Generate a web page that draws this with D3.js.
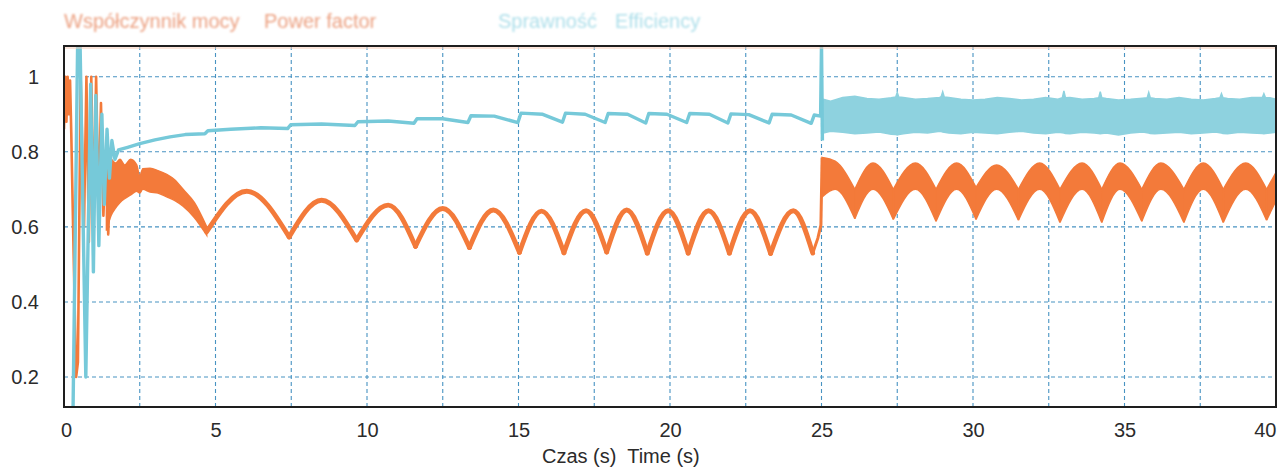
<!DOCTYPE html>
<html>
<head>
<meta charset="utf-8">
<script src="https://cdn.jsdelivr.net/npm/d3@7"></script>
<style>
  html, body { margin: 0; padding: 0; background: #fff; }
  svg { display: block; font-family: "Liberation Sans", Arial, sans-serif; }
  .tick-label { font-size: 20px; fill: #2b2b2b; }
</style>
</head>
<body>
<svg id="chart" width="1284" height="470"></svg>
<script>
// ---- DATA ----
const xTicks = [0, 5, 10, 15, 20, 25, 30, 35, 40];
const xGrid = [2.5, 5, 7.5, 10, 12.5, 15, 17.5, 20, 22.5, 25, 27.5, 30, 32.5, 35, 37.5];
const yTicks = [0.2, 0.4, 0.6, 0.8, 1];
const yTickLabels = ['0.2', '0.4', '0.6', '0.8', '1'];

// power factor, start-up transient
const pfStartT = [0.00, 0.04, 0.08, 0.12, 0.16, 0.20, 0.24, 0.30, 0.40, 0.46, 0.55, 0.66, 0.74, 0.82, 0.90, 0.98, 1.06, 1.14, 1.22, 1.30, 1.38, 1.46, 1.52];
const pfStartV = [0.86, 1.00, 0.88, 1.00, 0.90, 0.99, 0.85, 0.60, 0.20, 0.24, 1.00, 0.60, 1.00, 0.56, 1.00, 0.62, 1.00, 0.64, 0.93, 0.63, 0.80, 0.58, 0.72];

// power factor, rippled band 1.4 - 4.7 s
const pfRipT = [1.40, 1.55, 1.70, 1.85, 2.00, 2.20, 2.40, 2.50, 2.60, 2.84, 3.10, 3.39, 3.66, 3.93, 4.30, 4.71];
const pfRipHi = [0.75, 0.78, 0.77, 0.78, 0.765, 0.78, 0.765, 0.735, 0.755, 0.756, 0.75, 0.74, 0.725, 0.70, 0.665, 0.60];
const pfRipLo = [0.59, 0.63, 0.65, 0.665, 0.675, 0.685, 0.695, 0.69, 0.70, 0.693, 0.69, 0.68, 0.67, 0.655, 0.625, 0.578];

// power factor arches 4.7 - 25 s (minimum, maximum, minimum, ...)
const pfArcT = [4.71, 6.03, 7.43, 8.50, 9.66, 10.70, 11.60, 12.50, 13.38, 14.17, 15.03, 15.76, 16.50, 17.23, 17.91, 18.57, 19.25, 19.94, 20.60, 21.27, 21.96, 22.64, 23.32, 24.07, 24.71];
const pfArcV = [0.587, 0.695, 0.573, 0.671, 0.565, 0.658, 0.548, 0.649, 0.545, 0.645, 0.532, 0.642, 0.531, 0.643, 0.533, 0.645, 0.530, 0.643, 0.530, 0.643, 0.530, 0.643, 0.529, 0.643, 0.530];

// power factor step at 25 s
const pfJumpT = [24.71, 24.88, 24.98, 25.02];
const pfJumpV = [0.530, 0.570, 0.605, 0.785];

// power factor band after 25 s
const pfBandT = [25.02, 25.45, 26.10, 26.70, 27.37, 28.10, 28.78, 29.46, 30.10, 30.78, 31.50, 32.20, 32.87, 33.60, 34.25, 34.85, 35.57, 36.20, 36.96, 37.60, 38.26, 39.00, 39.69, 40.00];
const pfBandHi = [0.785, 0.775, 0.700, 0.770, 0.700, 0.770, 0.700, 0.770, 0.705, 0.765, 0.700, 0.770, 0.700, 0.770, 0.700, 0.770, 0.700, 0.770, 0.700, 0.770, 0.700, 0.770, 0.700, 0.745];
const pfBandLo = [0.680, 0.700, 0.622, 0.700, 0.620, 0.700, 0.615, 0.700, 0.620, 0.700, 0.618, 0.700, 0.612, 0.700, 0.612, 0.700, 0.615, 0.700, 0.612, 0.700, 0.612, 0.700, 0.618, 0.670];

// efficiency 0.3 - 25 s
const effT = [0.30, 0.45, 0.53, 0.72, 0.88, 0.97, 1.05, 1.15, 1.25, 1.33, 1.42, 1.50, 1.58, 1.68, 1.80, 2.10, 2.50, 3.00, 3.50, 4.00, 4.65, 4.75, 5.50, 6.50, 7.38, 7.48, 8.50, 9.60, 9.70, 10.70, 11.55, 11.65, 12.50, 13.33, 13.43, 14.20, 14.98, 15.08, 15.80, 16.45, 16.55, 17.20, 17.86, 17.96, 18.60, 19.20, 19.30, 19.90, 20.55, 20.65, 21.30, 21.91, 22.01, 22.60, 23.27, 23.37, 24.00, 24.66, 24.76, 24.97, 25.00, 25.03];
const effV = [0.12, 1.09, 1.09, 0.20, 0.98, 0.48, 0.95, 0.55, 0.90, 0.66, 0.86, 0.73, 0.83, 0.78, 0.805, 0.812, 0.822, 0.832, 0.840, 0.846, 0.848, 0.856, 0.860, 0.864, 0.862, 0.872, 0.874, 0.870, 0.880, 0.882, 0.876, 0.888, 0.888, 0.878, 0.896, 0.895, 0.878, 0.903, 0.900, 0.879, 0.903, 0.900, 0.878, 0.902, 0.900, 0.877, 0.902, 0.900, 0.878, 0.902, 0.900, 0.877, 0.901, 0.899, 0.877, 0.900, 0.898, 0.876, 0.898, 0.895, 1.09, 0.83];

// efficiency band after 25 s
const effBandT = [25.05, 25.3, 25.7, 26.1, 26.5, 26.9, 27.3, 27.45, 27.5, 27.55, 27.7, 28.1, 28.5, 28.9, 28.95, 29.0, 29.05, 29.2, 29.6, 30.0, 30.4, 30.8, 31.2, 31.6, 32.0, 32.4, 32.8, 32.95, 33.0, 33.05, 33.2, 33.6, 34.0, 34.15, 34.2, 34.25, 34.4, 34.8, 35.2, 35.6, 35.75, 35.8, 35.85, 36.0, 36.4, 36.8, 37.2, 37.6, 38.0, 38.15, 38.2, 38.25, 38.4, 38.8, 39.2, 39.55, 39.6, 39.65, 39.8, 40.0];
const effBandHi = [0.940, 0.935, 0.945, 0.948, 0.942, 0.940, 0.944, 0.946, 0.958, 0.946, 0.945, 0.940, 0.942, 0.945, 0.947, 0.960, 0.946, 0.945, 0.940, 0.938, 0.940, 0.945, 0.942, 0.938, 0.940, 0.945, 0.940, 0.944, 0.962, 0.944, 0.945, 0.940, 0.942, 0.944, 0.960, 0.944, 0.942, 0.938, 0.940, 0.943, 0.944, 0.958, 0.944, 0.942, 0.940, 0.945, 0.940, 0.938, 0.942, 0.944, 0.955, 0.944, 0.942, 0.940, 0.945, 0.945, 0.955, 0.945, 0.944, 0.940];
const effBandLo = [0.850, 0.855, 0.852, 0.848, 0.850, 0.853, 0.847, 0.846, 0.845, 0.846, 0.848, 0.852, 0.850, 0.855, 0.854, 0.853, 0.852, 0.850, 0.848, 0.852, 0.850, 0.848, 0.852, 0.855, 0.850, 0.848, 0.852, 0.851, 0.850, 0.849, 0.848, 0.852, 0.850, 0.849, 0.848, 0.849, 0.850, 0.845, 0.850, 0.853, 0.851, 0.850, 0.849, 0.848, 0.850, 0.852, 0.848, 0.850, 0.853, 0.851, 0.850, 0.849, 0.848, 0.852, 0.850, 0.849, 0.848, 0.849, 0.850, 0.852];

// ---- SETUP ----
const ORANGE = '#f37a3a', CYAN = '#76c9d9', CYAN_BAND = '#8ed2df', GRID = '#4893c2';
const svg = d3.select('#chart');
const margin = { top: 46, right: 8, bottom: 63, left: 64 };
const W = 1284, H = 470;

const x = d3.scaleLinear().domain([0, 40]).range([margin.left, W - margin.right]);
const y = d3.scaleLinear().domain([0.12, 1.082]).range([H - margin.bottom, margin.top]);

svg.append('defs').append('clipPath').attr('id', 'plot-clip')
  .append('rect')
  .attr('x', x(0)).attr('y', y(1.082))
  .attr('width', x(40) - x(0)).attr('height', y(0.12) - y(1.082));

const blur = svg.select('defs').append('filter').attr('id', 'soft');
blur.append('feGaussianBlur').attr('stdDeviation', 0.9);

// GRID
const grid = svg.append('g');
grid.selectAll('.vg').data(xGrid).enter().append('line')
  .attr('x1', d => x(d)).attr('x2', d => x(d))
  .attr('y1', y(1.082)).attr('y2', y(0.12))
  .attr('stroke', GRID).attr('stroke-width', 1.1).attr('stroke-dasharray', '4,3');
grid.selectAll('.hg').data(yTicks).enter().append('line')
  .attr('x1', x(0)).attr('x2', x(40))
  .attr('y1', d => y(d)).attr('y2', d => y(d))
  .attr('stroke', GRID).attr('stroke-width', 1.1).attr('stroke-dasharray', '4,3');

const plot = svg.append('g').attr('clip-path', 'url(#plot-clip)');

const zip = (ts, vs) => ts.map((t, i) => [t, vs[i]]);
const zip3 = (ts, hi, lo) => ts.map((t, i) => [t, hi[i], lo[i]]);

const line = d3.line().x(d => x(d[0])).y(d => y(d[1]));
const arcLine = d3.line().x(d => x(d[0])).y(d => y(d[1])).curve(d3.curveMonotoneX);
const band = d3.area().x(d => x(d[0])).y0(d => y(d[2])).y1(d => y(d[1])).curve(d3.curveMonotoneX);
const bandLin = d3.area().x(d => x(d[0])).y0(d => y(d[2])).y1(d => y(d[1]));

// split min-max-min data into separate arches so cusps stay sharp
function arches(pts) {
  const out = [];
  for (let i = 0; i + 1 < pts.length; i += 2) out.push(pts.slice(i, i + 3));
  return out;
}

// EFFICIENCY band
plot.append('path').datum(zip3(effBandT, effBandHi, effBandLo))
  .attr('d', bandLin).attr('fill', CYAN_BAND).attr('stroke', CYAN_BAND).attr('stroke-width', 1.5);

// POWER FACTOR
plot.append('path').datum(zip(pfStartT, pfStartV))
  .attr('d', line).attr('fill', 'none').attr('stroke', ORANGE).attr('stroke-width', 2.6)
  .attr('stroke-linejoin', 'round');
plot.append('path').datum(zip3(pfRipT, pfRipHi, pfRipLo))
  .attr('d', band).attr('fill', ORANGE).attr('stroke', ORANGE).attr('stroke-width', 1.5);
plot.selectAll('.pf-arc').data(arches(zip(pfArcT, pfArcV))).enter().append('path')
  .attr('d', arcLine).attr('fill', 'none').attr('stroke', ORANGE).attr('stroke-width', 4.8)
  .attr('stroke-linecap', 'round');
plot.append('path').datum(zip(pfJumpT, pfJumpV))
  .attr('d', line).attr('fill', 'none').attr('stroke', ORANGE).attr('stroke-width', 3);
plot.selectAll('.pf-band').data(arches(zip3(pfBandT, pfBandHi, pfBandLo))).enter().append('path')
  .attr('d', band).attr('fill', ORANGE).attr('stroke', ORANGE).attr('stroke-width', 1.5);

// EFFICIENCY line
plot.append('path').datum(zip(effT, effV))
  .attr('d', line).attr('fill', 'none').attr('stroke', CYAN).attr('stroke-width', 3.4)
  .attr('stroke-linejoin', 'round');

// FRAME
svg.append('line').attr('x1', x(0)).attr('x2', x(40)).attr('y1', y(1.082) + 2).attr('y2', y(1.082) + 2)
  .attr('stroke', '#f6cbb6').attr('stroke-width', 1);
svg.append('rect')
  .attr('x', x(0)).attr('y', y(1.082))
  .attr('width', x(40) - x(0)).attr('height', y(0.12) - y(1.082))
  .attr('fill', 'none').attr('stroke', '#1e1e1e').attr('stroke-width', 2);

// AXES
const xAxis = svg.append('g')
  .attr('transform', 'translate(0,' + y(0.12) + ')')
  .call(d3.axisBottom(x).tickValues(xTicks).tickSize(0).tickPadding(16));
xAxis.select('.domain').remove();
xAxis.selectAll('text').attr('class', 'tick-label').attr('fill', null)
  .style('text-anchor', d => d === 40 ? 'end' : 'middle')
  .attr('dx', d => d === 0 ? 2 : 0);

const yAxis = svg.append('g')
  .attr('transform', 'translate(' + x(0) + ',0)')
  .call(d3.axisLeft(y).tickValues(yTicks).tickSize(0).tickPadding(25)
    .tickFormat((d, i) => yTickLabels[i]));
yAxis.select('.domain').remove();
yAxis.selectAll('text').attr('class', 'tick-label').attr('fill', null);

// AXIS TITLE
svg.append('text')
  .attr('x', 542).attr('y', 463)
  .attr('class', 'tick-label')
  .style('white-space', 'pre')
  .text('Czas (s)  Time (s)');

// LEGEND
const legend = svg.append('g').attr('filter', 'url(#soft)').style('font-size', '20px');
legend.append('text').attr('x', 64).attr('y', 28).attr('fill', '#eca182').text('Współczynnik mocy');
legend.append('text').attr('x', 264).attr('y', 28).attr('fill', '#eca182').text('Power factor');
legend.append('text').attr('x', 498).attr('y', 28).attr('fill', '#aedfea').text('Sprawność');
legend.append('text').attr('x', 615).attr('y', 28).attr('fill', '#aedfea').text('Efficiency');
</script>
</body>
</html>
